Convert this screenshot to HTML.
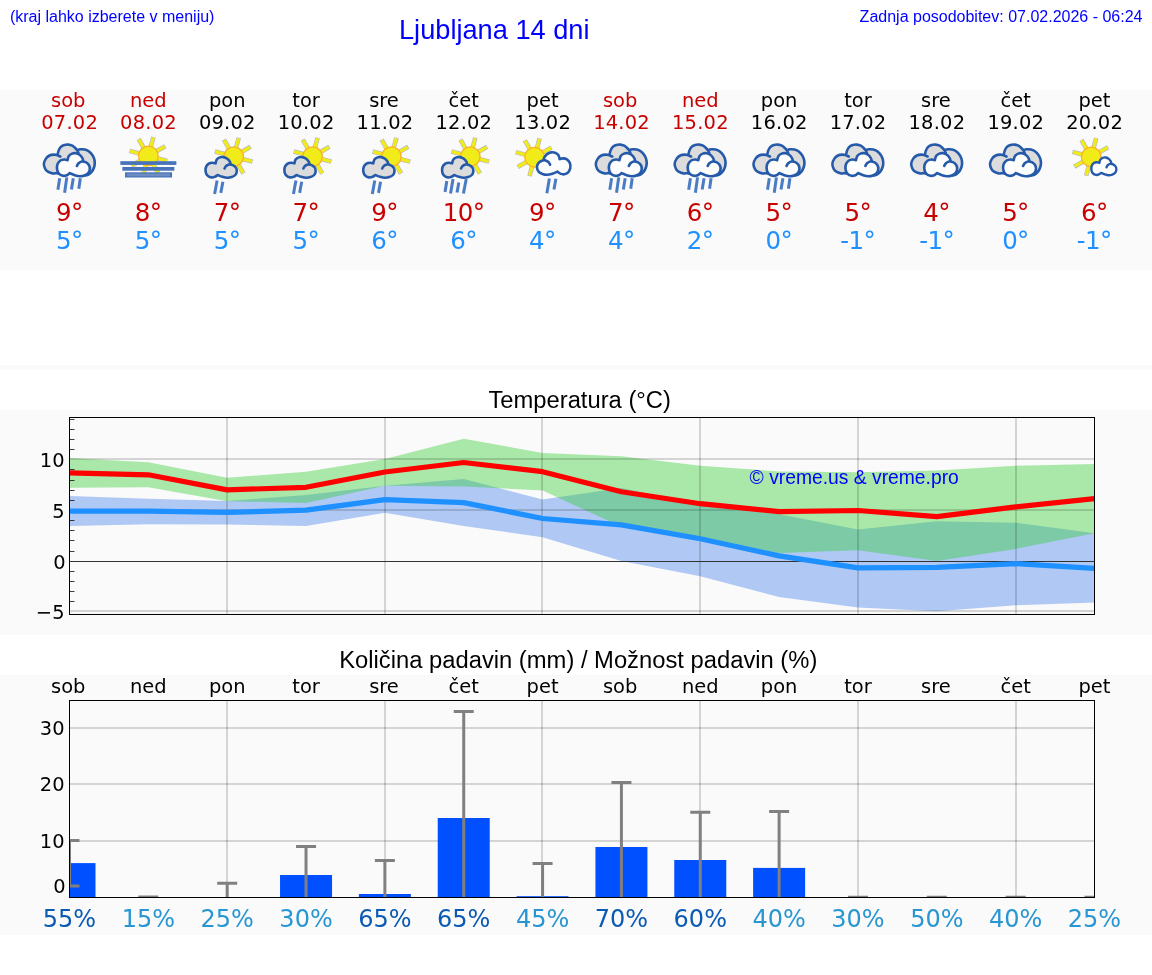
<!DOCTYPE html>
<html lang="sl"><head><meta charset="utf-8"><title>Ljubljana 14 dni</title>
<style>html,body{margin:0;padding:0;background:#fff;}svg{display:block;}.dj{font-family:"DejaVu Sans","Liberation Sans",sans-serif;}.ar{font-family:"Liberation Sans",Arial,sans-serif;}</style></head><body>
<svg width="1152" height="975" viewBox="0 0 1152 975">
<defs>
<filter id="blur" x="-30%" y="-30%" width="160%" height="160%"><feGaussianBlur stdDeviation="0.45"/></filter>
<g id="cloud"><path d="M11.1,7.1C11.3,6.48 11.58,4.38 12.3,3.4C13.02,2.42 14.27,1.62 15.4,1.2C16.53,0.78 17.87,0.68 19.1,0.9C20.33,1.12 21.78,1.78 22.8,2.5C23.82,3.22 24.63,4.28 25.2,5.2C25.77,6.12 26.03,7.53 26.2,8C26.55,8.15 27.43,8.33 28.3,8.9C29.17,9.47 30.73,10.37 31.4,11.4C32.07,12.43 32.4,13.87 32.3,15.1C32.2,16.33 31.67,17.83 30.8,18.8C29.93,19.77 28.43,20.43 27.1,20.9C25.77,21.37 24.33,21.65 22.8,21.6C21.27,21.55 19.5,21.07 17.9,20.6C16.3,20.13 13.98,19.1 13.2,18.8C12.75,19.1 11.57,20.2 10.5,20.6C9.43,21 8.03,21.4 6.8,21.2C5.57,21 4.03,20.32 3.1,19.4C2.17,18.48 1.47,17.13 1.2,15.7C0.93,14.27 0.98,12.18 1.5,10.8C2.02,9.42 3.22,8.12 4.3,7.4C5.38,6.68 6.87,6.55 8,6.5C9.13,6.45 10.58,7 11.1,7.1Z" stroke="none"/><path d="M20,12.3C20.27,11.9 20.83,10.57 21.6,9.9C22.37,9.23 23.48,8.47 24.6,8.3C25.72,8.13 27.17,8.38 28.3,8.9C29.43,9.42 30.73,10.37 31.4,11.4C32.07,12.43 32.4,13.87 32.3,15.1C32.2,16.33 31.67,17.83 30.8,18.8C29.93,19.77 28.43,20.43 27.1,20.9C25.77,21.37 24.33,21.65 22.8,21.6C21.27,21.55 19.5,21.07 17.9,20.6C16.3,20.13 13.98,19.1 13.2,18.8M13.2,18.8C12.75,19.1 11.57,20.2 10.5,20.6C9.43,21 8.03,21.4 6.8,21.2C5.57,21 4.03,20.32 3.1,19.4C2.17,18.48 1.47,17.13 1.2,15.7C0.93,14.27 0.98,12.18 1.5,10.8C2.02,9.42 3.22,8.12 4.3,7.4C5.38,6.68 6.87,6.55 8,6.5C9.13,6.45 10.58,7 11.1,7.1M11.1,7.1C11.3,6.48 11.58,4.38 12.3,3.4C13.02,2.42 14.27,1.62 15.4,1.2C16.53,0.78 17.87,0.68 19.1,0.9C20.33,1.12 21.78,1.78 22.8,2.5C23.82,3.22 24.63,4.28 25.2,5.2C25.77,6.12 26.03,7.53 26.2,8" fill="none" stroke="#2559a9" stroke-linecap="round" stroke-linejoin="round" vector-effect="non-scaling-stroke"/></g>
<g id="backcloud"><path d="M22.8,35.7C22.48,35.6 21.93,35.15 20.9,35.1C19.87,35.05 18.03,35.6 16.6,35.4C15.17,35.2 13.53,34.67 12.3,33.9C11.07,33.13 9.93,32.13 9.2,30.8C8.47,29.47 7.78,27.6 7.9,25.9C8.02,24.2 8.97,22 9.9,20.6C10.83,19.2 12.17,18.17 13.5,17.5C14.83,16.83 16.62,16.65 17.9,16.6C19.18,16.55 20.65,17.1 21.2,17.2C21.27,17.15 21.38,17.62 21.6,16.9C21.82,16.18 22,14.18 22.5,12.9C23,11.62 23.63,10.17 24.6,9.2C25.57,8.23 27.02,7.53 28.3,7.1C29.58,6.67 30.97,6.5 32.3,6.6C33.63,6.7 35.12,7.1 36.3,7.7C37.48,8.3 38.6,9.43 39.4,10.2C40.2,10.97 40.82,11.95 41.1,12.3C41.63,12.13 43.02,11.42 44.3,11.3C45.58,11.18 47.28,11.18 48.8,11.6C50.32,12.02 52.05,12.75 53.4,13.8C54.75,14.85 56.03,16.4 56.9,17.9C57.77,19.4 58.32,21.23 58.6,22.8C58.88,24.37 58.85,25.83 58.6,27.3C58.35,28.77 57.72,30.38 57.1,31.6C56.48,32.82 55.68,33.78 54.9,34.6C54.12,35.42 53.3,36.02 52.4,36.5C51.5,36.98 49.98,37.33 49.5,37.5L30,36Z" fill="#dcdcdc" stroke="none"/><path d="M24.3,18.5C23.78,18.28 22.27,17.52 21.2,17.2C20.13,16.88 19.18,16.55 17.9,16.6C16.62,16.65 14.83,16.83 13.5,17.5C12.17,18.17 10.83,19.2 9.9,20.6C8.97,22 8.02,24.2 7.9,25.9C7.78,27.6 8.47,29.47 9.2,30.8C9.93,32.13 11.07,33.13 12.3,33.9C13.53,34.67 15.17,35.2 16.6,35.4C18.03,35.6 19.87,35.05 20.9,35.1C21.93,35.15 22.48,35.6 22.8,35.7M21.6,16.9C21.75,16.23 22,14.18 22.5,12.9C23,11.62 23.63,10.17 24.6,9.2C25.57,8.23 27.02,7.53 28.3,7.1C29.58,6.67 30.97,6.5 32.3,6.6C33.63,6.7 35.12,7.1 36.3,7.7C37.48,8.3 38.6,9.43 39.4,10.2C40.2,10.97 40.58,11.48 41.1,12.3C41.62,13.12 42.27,14.63 42.5,15.1M41.1,12.3C41.63,12.13 43.02,11.42 44.3,11.3C45.58,11.18 47.28,11.18 48.8,11.6C50.32,12.02 52.05,12.75 53.4,13.8C54.75,14.85 56.03,16.4 56.9,17.9C57.77,19.4 58.32,21.23 58.6,22.8C58.88,24.37 58.85,25.83 58.6,27.3C58.35,28.77 57.72,30.38 57.1,31.6C56.48,32.82 55.68,33.78 54.9,34.6C54.12,35.42 53.3,36.02 52.4,36.5C51.5,36.98 49.98,37.33 49.5,37.5" fill="none" stroke="#2559a9" stroke-width="2.6" stroke-linecap="round" stroke-linejoin="round"/></g>
<g id="sun"><g stroke="#7d84a0" stroke-width="4.6" stroke-linecap="butt" opacity="0.55" filter="url(#blur)"><line x1="8.69" y1="2.33" x2="18.84" y2="5.05"/><line x1="4.5" y1="7.79" x2="9.75" y2="16.89"/><line x1="-2.33" y1="8.69" x2="-5.05" y2="18.84"/><line x1="-7.79" y1="4.5" x2="-16.89" y2="9.75"/><line x1="-8.69" y1="-2.33" x2="-18.84" y2="-5.05"/><line x1="-4.5" y1="-7.79" x2="-9.75" y2="-16.89"/><line x1="2.33" y1="-8.69" x2="5.05" y2="-18.84"/><line x1="7.79" y1="-4.5" x2="16.89" y2="-9.75"/></g><g stroke="#f0eb19" stroke-width="3.3" stroke-linecap="butt"><line x1="8.69" y1="2.33" x2="18.35" y2="4.92"/><line x1="4.5" y1="7.79" x2="9.5" y2="16.45"/><line x1="-2.33" y1="8.69" x2="-4.92" y2="18.35"/><line x1="-7.79" y1="4.5" x2="-16.45" y2="9.5"/><line x1="-8.69" y1="-2.33" x2="-18.35" y2="-4.92"/><line x1="-4.5" y1="-7.79" x2="-9.5" y2="-16.45"/><line x1="2.33" y1="-8.69" x2="4.92" y2="-18.35"/><line x1="7.79" y1="-4.5" x2="16.45" y2="-9.5"/></g><circle r="9.8" fill="#f0eb19" stroke="#fab228" stroke-width="1.3"/></g>
<clipPath id="clipT"><rect x="69.5" y="417.5" width="1025" height="197"/></clipPath>
<clipPath id="clipP"><rect x="69.5" y="700.5" width="1025" height="197"/></clipPath>
</defs>
<rect x="0" y="0" width="1152" height="975" fill="#fff"/>
<rect x="0" y="90" width="1152" height="180" fill="#fafafa"/>
<rect x="0" y="365" width="1152" height="5" fill="#fafafa"/>
<rect x="0" y="410" width="1152" height="225" fill="#fafafa"/>
<rect x="0" y="675" width="1152" height="260" fill="#fafafa"/>
<g class="ar" fill="#0000ff">
<text x="9.9" y="21.6" font-size="16">(kraj lahko izberete v meniju)</text>
<text x="399" y="39.3" font-size="27.2">Ljubljana 14 dni</text>
<text x="1142.5" y="21.5" font-size="16" text-anchor="end">Zadnja posodobitev: 07.02.2026 - 06:24</text>
</g>
<g class="dj" text-anchor="middle">
<text x="68.2" y="106.7" font-size="19.44" fill="#c80000">sob</text>
<text x="69.6" y="129" font-size="19.44" letter-spacing="0.22" fill="#c80000">07.02</text>
<text x="69.3" y="220.7" font-size="24.5" letter-spacing="-0.6" fill="#c80000">9°</text>
<text x="69.3" y="248.7" font-size="24.5" letter-spacing="-0.6" fill="#1e90ff">5°</text>
<text x="148.35" y="106.7" font-size="19.44" fill="#c80000">ned</text>
<text x="148.45" y="129" font-size="19.44" letter-spacing="0.22" fill="#c80000">08.02</text>
<text x="148.15" y="220.7" font-size="24.5" letter-spacing="-0.6" fill="#c80000">8°</text>
<text x="148.15" y="248.7" font-size="24.5" letter-spacing="-0.6" fill="#1e90ff">5°</text>
<text x="227.19" y="106.7" font-size="19.44" fill="#000">pon</text>
<text x="227.29" y="129" font-size="19.44" letter-spacing="0.22" fill="#000">09.02</text>
<text x="226.99" y="220.7" font-size="24.5" letter-spacing="-0.6" fill="#c80000">7°</text>
<text x="226.99" y="248.7" font-size="24.5" letter-spacing="-0.6" fill="#1e90ff">5°</text>
<text x="306.04" y="106.7" font-size="19.44" fill="#000">tor</text>
<text x="306.14" y="129" font-size="19.44" letter-spacing="0.22" fill="#000">10.02</text>
<text x="305.84" y="220.7" font-size="24.5" letter-spacing="-0.6" fill="#c80000">7°</text>
<text x="305.84" y="248.7" font-size="24.5" letter-spacing="-0.6" fill="#1e90ff">5°</text>
<text x="383.98" y="106.7" font-size="19.44" fill="#000">sre</text>
<text x="384.98" y="129" font-size="19.44" letter-spacing="0.22" fill="#000">11.02</text>
<text x="384.68" y="220.7" font-size="24.5" letter-spacing="-0.6" fill="#c80000">9°</text>
<text x="384.68" y="248.7" font-size="24.5" letter-spacing="-0.6" fill="#1e90ff">6°</text>
<text x="463.73" y="106.7" font-size="19.44" fill="#000">čet</text>
<text x="463.83" y="129" font-size="19.44" letter-spacing="0.22" fill="#000">12.02</text>
<text x="463.53" y="220.7" font-size="24.5" letter-spacing="-0.6" fill="#c80000">10°</text>
<text x="463.53" y="248.7" font-size="24.5" letter-spacing="-0.6" fill="#1e90ff">6°</text>
<text x="542.58" y="106.7" font-size="19.44" fill="#000">pet</text>
<text x="542.68" y="129" font-size="19.44" letter-spacing="0.22" fill="#000">13.02</text>
<text x="542.38" y="220.7" font-size="24.5" letter-spacing="-0.6" fill="#c80000">9°</text>
<text x="542.38" y="248.7" font-size="24.5" letter-spacing="-0.6" fill="#1e90ff">4°</text>
<text x="620.12" y="106.7" font-size="19.44" fill="#c80000">sob</text>
<text x="621.52" y="129" font-size="19.44" letter-spacing="0.22" fill="#c80000">14.02</text>
<text x="621.22" y="220.7" font-size="24.5" letter-spacing="-0.6" fill="#c80000">7°</text>
<text x="621.22" y="248.7" font-size="24.5" letter-spacing="-0.6" fill="#1e90ff">4°</text>
<text x="700.27" y="106.7" font-size="19.44" fill="#c80000">ned</text>
<text x="700.37" y="129" font-size="19.44" letter-spacing="0.22" fill="#c80000">15.02</text>
<text x="700.07" y="220.7" font-size="24.5" letter-spacing="-0.6" fill="#c80000">6°</text>
<text x="700.07" y="248.7" font-size="24.5" letter-spacing="-0.6" fill="#1e90ff">2°</text>
<text x="779.12" y="106.7" font-size="19.44" fill="#000">pon</text>
<text x="779.22" y="129" font-size="19.44" letter-spacing="0.22" fill="#000">16.02</text>
<text x="778.92" y="220.7" font-size="24.5" letter-spacing="-0.6" fill="#c80000">5°</text>
<text x="778.92" y="248.7" font-size="24.5" letter-spacing="-0.6" fill="#1e90ff">0°</text>
<text x="857.96" y="106.7" font-size="19.44" fill="#000">tor</text>
<text x="858.06" y="129" font-size="19.44" letter-spacing="0.22" fill="#000">17.02</text>
<text x="857.76" y="220.7" font-size="24.5" letter-spacing="-0.6" fill="#c80000">5°</text>
<text x="857.76" y="248.7" font-size="24.5" letter-spacing="-0.6" fill="#1e90ff">-1°</text>
<text x="935.91" y="106.7" font-size="19.44" fill="#000">sre</text>
<text x="936.91" y="129" font-size="19.44" letter-spacing="0.22" fill="#000">18.02</text>
<text x="936.61" y="220.7" font-size="24.5" letter-spacing="-0.6" fill="#c80000">4°</text>
<text x="936.61" y="248.7" font-size="24.5" letter-spacing="-0.6" fill="#1e90ff">-1°</text>
<text x="1015.65" y="106.7" font-size="19.44" fill="#000">čet</text>
<text x="1015.75" y="129" font-size="19.44" letter-spacing="0.22" fill="#000">19.02</text>
<text x="1015.45" y="220.7" font-size="24.5" letter-spacing="-0.6" fill="#c80000">5°</text>
<text x="1015.45" y="248.7" font-size="24.5" letter-spacing="-0.6" fill="#1e90ff">0°</text>
<text x="1094.5" y="106.7" font-size="19.44" fill="#000">pet</text>
<text x="1094.6" y="129" font-size="19.44" letter-spacing="0.22" fill="#000">20.02</text>
<text x="1094.3" y="220.7" font-size="24.5" letter-spacing="-0.6" fill="#c80000">6°</text>
<text x="1094.3" y="248.7" font-size="24.5" letter-spacing="-0.6" fill="#1e90ff">-1°</text>
</g>
<g id="icons">
<use href="#backcloud" x="36" y="138"/><g transform="translate(55.9,152.3) scale(1.05,1.11)" fill="#fdfdfd" stroke-width="2.6"><use href="#cloud"/></g><g stroke="#4a7cc4" stroke-width="3" stroke-linecap="butt"><line x1="59.7" y1="178.3" x2="57.9" y2="189.7"/><line x1="66.8" y1="177.4" x2="64.6" y2="192.8"/><line x1="73.3" y1="178.3" x2="71.4" y2="189.4"/><line x1="80.3" y1="178.3" x2="78.8" y2="188.8"/></g>
<use href="#sun" x="148.35" y="155.9"/><g fill="#4673b9"><rect x="120.35" y="161.2" width="56" height="3.7"/><rect x="122.35" y="167" width="52" height="3.7"/><rect x="125.05" y="172.3" width="47" height="5.2"/></g><rect x="127.05" y="173.5" width="43" height="2.8" fill="#6b8dc2"/>
<use href="#sun" x="233.69" y="156.6"/><g transform="translate(204.49,156.2)" fill="#dcdcdc" stroke-width="2.6"><use href="#cloud"/></g><g stroke="#4a7cc4" stroke-width="3" stroke-linecap="butt"><line x1="217.09" y1="180.6" x2="214.59" y2="194.1"/><line x1="222.89" y1="181.8" x2="220.79" y2="192.9"/></g>
<use href="#sun" x="312.54" y="156.6"/><g transform="translate(283.34,156.2)" fill="#dcdcdc" stroke-width="2.6"><use href="#cloud"/></g><g stroke="#4a7cc4" stroke-width="3" stroke-linecap="butt"><line x1="295.94" y1="180.6" x2="293.44" y2="194.1"/><line x1="301.74" y1="181.8" x2="299.64" y2="192.9"/></g>
<use href="#sun" x="391.38" y="156.6"/><g transform="translate(362.18,156.2)" fill="#dcdcdc" stroke-width="2.6"><use href="#cloud"/></g><g stroke="#4a7cc4" stroke-width="3" stroke-linecap="butt"><line x1="374.78" y1="180.6" x2="372.28" y2="194.1"/><line x1="380.58" y1="181.8" x2="378.48" y2="192.9"/></g>
<use href="#sun" x="470.23" y="156.6"/><g transform="translate(441.03,156.2)" fill="#dcdcdc" stroke-width="2.6"><use href="#cloud"/></g><g stroke="#4a7cc4" stroke-width="3" stroke-linecap="butt"><line x1="446.83" y1="180.9" x2="445.03" y2="192"/><line x1="453.03" y1="179" x2="450.53" y2="193.5"/><line x1="458.83" y1="182.4" x2="457.03" y2="192.6"/><line x1="466.23" y1="179" x2="463.43" y2="193.5"/></g>
<use href="#sun" x="534.58" y="157.2"/><g transform="translate(571.48,151.4) scale(-1.068,1.08)" fill="#fdfdfd" stroke-width="2.6"><use href="#cloud"/></g><g stroke="#4a7cc4" stroke-width="3" stroke-linecap="butt"><line x1="549.38" y1="178.4" x2="546.88" y2="193.2"/><line x1="555.88" y1="178.7" x2="553.98" y2="189.5"/></g>
<use href="#backcloud" x="587.92" y="138"/><g transform="translate(607.82,152.3) scale(1.05,1.11)" fill="#fdfdfd" stroke-width="2.6"><use href="#cloud"/></g><g stroke="#4a7cc4" stroke-width="3" stroke-linecap="butt"><line x1="611.62" y1="178.3" x2="609.82" y2="189.7"/><line x1="618.72" y1="177.4" x2="616.52" y2="192.8"/><line x1="625.22" y1="178.3" x2="623.32" y2="189.4"/><line x1="632.22" y1="178.3" x2="630.72" y2="188.8"/></g>
<use href="#backcloud" x="666.77" y="138"/><g transform="translate(686.67,152.3) scale(1.05,1.11)" fill="#fdfdfd" stroke-width="2.6"><use href="#cloud"/></g><g stroke="#4a7cc4" stroke-width="3" stroke-linecap="butt"><line x1="690.47" y1="178.3" x2="688.67" y2="189.7"/><line x1="697.57" y1="177.4" x2="695.37" y2="192.8"/><line x1="704.07" y1="178.3" x2="702.17" y2="189.4"/><line x1="711.07" y1="178.3" x2="709.57" y2="188.8"/></g>
<use href="#backcloud" x="745.62" y="138"/><g transform="translate(765.52,152.3) scale(1.05,1.11)" fill="#fdfdfd" stroke-width="2.6"><use href="#cloud"/></g><g stroke="#4a7cc4" stroke-width="3" stroke-linecap="butt"><line x1="769.32" y1="178.3" x2="767.52" y2="189.7"/><line x1="776.42" y1="177.4" x2="774.22" y2="192.8"/><line x1="782.92" y1="178.3" x2="781.02" y2="189.4"/><line x1="789.92" y1="178.3" x2="788.42" y2="188.8"/></g>
<use href="#backcloud" x="824.46" y="138"/><g transform="translate(844.36,152.3) scale(1.05,1.11)" fill="#fdfdfd" stroke-width="2.6"><use href="#cloud"/></g>
<use href="#backcloud" x="903.31" y="138"/><g transform="translate(923.21,152.3) scale(1.05,1.11)" fill="#fdfdfd" stroke-width="2.6"><use href="#cloud"/></g>
<use href="#backcloud" x="982.15" y="138"/><g transform="translate(1002.05,152.3) scale(1.05,1.11)" fill="#fdfdfd" stroke-width="2.6"><use href="#cloud"/></g>
<use href="#sun" x="1091.2" y="156.9"/><g transform="translate(1090.5,156.7) scale(0.8,0.86)" fill="#fdfdfd" stroke-width="2.35"><use href="#cloud"/></g>
</g>
<text class="ar" x="488.4" y="408" font-size="23.78" fill="#000">Temperatura (°C)</text>
<g clip-path="url(#clipT)">
<polygon points="69.5,496.1 148.35,498.7 227.19,501 306.04,495.1 384.88,485.7 463.73,479.1 542.58,499.4 621.42,488 700.27,504.8 779.12,514.2 857.96,529.5 936.81,521.2 1015.65,522.7 1094.5,533.2 1094.5,602.5 1015.65,605.2 936.81,611.3 857.96,607.6 779.12,596.9 700.27,576.2 621.42,560.9 542.58,537.2 463.73,526 384.88,512.8 306.04,526 227.19,524.6 148.35,524.3 69.5,526" fill="#6495ed" fill-opacity="0.5"/>
<polygon points="69.5,458.1 148.35,462.3 227.19,477.7 306.04,471.7 384.88,458.9 463.73,438.7 542.58,452.9 621.42,456.2 700.27,465.8 779.12,471.4 857.96,472.3 936.81,470.5 1015.65,465.8 1094.5,464 1094.5,533.2 1015.65,548.9 936.81,560.9 857.96,550.2 779.12,553 700.27,540 621.42,526.8 542.58,490.5 463.73,486.4 384.88,485.7 306.04,502.9 227.19,501.3 148.35,487.3 69.5,487.8" fill="#32cd32" fill-opacity="0.4"/>
<g stroke="#000" stroke-opacity="0.15" stroke-width="2">
<line x1="227" y1="417" x2="227" y2="615"/>
<line x1="385" y1="417" x2="385" y2="615"/>
<line x1="542" y1="417" x2="542" y2="615"/>
<line x1="700" y1="417" x2="700" y2="615"/>
<line x1="858" y1="417" x2="858" y2="615"/>
<line x1="1016" y1="417" x2="1016" y2="615"/>
<line x1="69" y1="459" x2="1095" y2="459"/>
<line x1="69" y1="510" x2="1095" y2="510"/>
<line x1="69" y1="611" x2="1095" y2="611"/>
</g>
<line x1="69" y1="561.5" x2="1095" y2="561.5" stroke="#333" stroke-width="1"/>
<polyline points="69.5,472.9 148.35,474.8 227.19,489.9 306.04,487.3 384.88,472 463.73,462.5 542.58,471.7 621.42,491.7 700.27,503.7 779.12,511.6 857.96,510.5 936.81,516.6 1015.65,506.8 1094.5,498.7" fill="none" stroke="#ff0000" stroke-width="5.2" stroke-linejoin="round" stroke-linecap="butt"/>
<polyline points="69.5,511.2 148.35,511.2 227.19,512.3 306.04,510.2 384.88,499.6 463.73,502.6 542.58,518.5 621.42,524.9 700.27,538.8 779.12,555.9 857.96,567.9 936.81,567.4 1015.65,563.7 1094.5,568.3" fill="none" stroke="#1e90ff" stroke-width="5.2" stroke-linejoin="round" stroke-linecap="butt"/>
</g>
<g stroke="#1a1a1a" stroke-width="0.85">
<line x1="70" y1="601.5" x2="74.5" y2="601.5"/>
<line x1="70" y1="591.5" x2="74.5" y2="591.5"/>
<line x1="70" y1="581.5" x2="74.5" y2="581.5"/>
<line x1="70" y1="571.5" x2="74.5" y2="571.5"/>
<line x1="70" y1="551.5" x2="74.5" y2="551.5"/>
<line x1="70" y1="540.5" x2="74.5" y2="540.5"/>
<line x1="70" y1="530.5" x2="74.5" y2="530.5"/>
<line x1="70" y1="520.5" x2="74.5" y2="520.5"/>
<line x1="70" y1="500.5" x2="74.5" y2="500.5"/>
<line x1="70" y1="490.5" x2="74.5" y2="490.5"/>
<line x1="70" y1="480.5" x2="74.5" y2="480.5"/>
<line x1="70" y1="469.5" x2="74.5" y2="469.5"/>
<line x1="70" y1="449.5" x2="74.5" y2="449.5"/>
<line x1="70" y1="439.5" x2="74.5" y2="439.5"/>
<line x1="70" y1="429.5" x2="74.5" y2="429.5"/>
<line x1="70" y1="419.5" x2="74.5" y2="419.5"/>
</g>
<rect x="69.5" y="417.5" width="1025" height="197" fill="none" stroke="#000" stroke-width="1"/>
<g class="dj" font-size="19.44" text-anchor="end" fill="#000">
<text x="64.5" y="466.7">10</text>
<text x="64.5" y="517.7">5</text>
<text x="65.7" y="568.7">0</text>
<text x="64.5" y="618.7">−5</text>
</g>
<text class="ar" x="749.6" y="484.2" font-size="19.3" fill="#0000ff">© vreme.us &amp; vreme.pro</text>
<text class="ar" x="339.2" y="667.5" font-size="23.78" fill="#000">Količina padavin (mm) / Možnost padavin (%)</text>
<g class="dj" font-size="19.44" text-anchor="middle" fill="#000">
<text x="68.2" y="692.8">sob</text>
<text x="148.35" y="692.8">ned</text>
<text x="227.19" y="692.8">pon</text>
<text x="306.04" y="692.8">tor</text>
<text x="383.98" y="692.8">sre</text>
<text x="463.73" y="692.8">čet</text>
<text x="542.58" y="692.8">pet</text>
<text x="620.12" y="692.8">sob</text>
<text x="700.27" y="692.8">ned</text>
<text x="779.12" y="692.8">pon</text>
<text x="857.96" y="692.8">tor</text>
<text x="935.91" y="692.8">sre</text>
<text x="1015.65" y="692.8">čet</text>
<text x="1094.5" y="692.8">pet</text>
</g>
<g clip-path="url(#clipP)">
<g stroke="#000" stroke-opacity="0.15" stroke-width="2">
<line x1="227" y1="700" x2="227" y2="898"/>
<line x1="385" y1="700" x2="385" y2="898"/>
<line x1="542" y1="700" x2="542" y2="898"/>
<line x1="700" y1="700" x2="700" y2="898"/>
<line x1="858" y1="700" x2="858" y2="898"/>
<line x1="1016" y1="700" x2="1016" y2="898"/>
<line x1="69" y1="728" x2="1095" y2="728"/>
<line x1="69" y1="784" x2="1095" y2="784"/>
<line x1="69" y1="841" x2="1095" y2="841"/>
</g>
<g fill="#0050ff">
<rect x="43.5" y="863.1" width="52" height="34.9"/>
<rect x="280.04" y="875" width="52" height="23"/>
<rect x="358.88" y="894" width="52" height="4"/>
<rect x="437.73" y="818" width="52" height="80"/>
<rect x="516.58" y="896.2" width="52" height="1.8"/>
<rect x="595.42" y="847" width="52" height="51"/>
<rect x="674.27" y="860" width="52" height="38"/>
<rect x="753.12" y="867.9" width="52" height="30.1"/>
</g>
<g stroke="#808080" stroke-width="3">
<line x1="69.5" y1="840.6" x2="69.5" y2="886"/>
<line x1="59.5" y1="840.6" x2="79.5" y2="840.6"/>
<line x1="59.5" y1="886" x2="79.5" y2="886"/>
<line x1="148.35" y1="897" x2="148.35" y2="898"/>
<line x1="138.35" y1="897" x2="158.35" y2="897"/>
<line x1="227.19" y1="883.3" x2="227.19" y2="898"/>
<line x1="217.19" y1="883.3" x2="237.19" y2="883.3"/>
<line x1="306.04" y1="846.5" x2="306.04" y2="898"/>
<line x1="296.04" y1="846.5" x2="316.04" y2="846.5"/>
<line x1="384.88" y1="860.4" x2="384.88" y2="898"/>
<line x1="374.88" y1="860.4" x2="394.88" y2="860.4"/>
<line x1="463.73" y1="711.6" x2="463.73" y2="898"/>
<line x1="453.73" y1="711.6" x2="473.73" y2="711.6"/>
<line x1="542.58" y1="863.4" x2="542.58" y2="898"/>
<line x1="532.58" y1="863.4" x2="552.58" y2="863.4"/>
<line x1="621.42" y1="782.4" x2="621.42" y2="898"/>
<line x1="611.42" y1="782.4" x2="631.42" y2="782.4"/>
<line x1="700.27" y1="812.3" x2="700.27" y2="898"/>
<line x1="690.27" y1="812.3" x2="710.27" y2="812.3"/>
<line x1="779.12" y1="811.4" x2="779.12" y2="898"/>
<line x1="769.12" y1="811.4" x2="789.12" y2="811.4"/>
<line x1="857.96" y1="897.2" x2="857.96" y2="898"/>
<line x1="847.96" y1="897.2" x2="867.96" y2="897.2"/>
<line x1="936.81" y1="897.2" x2="936.81" y2="898"/>
<line x1="926.81" y1="897.2" x2="946.81" y2="897.2"/>
<line x1="1015.65" y1="897.2" x2="1015.65" y2="898"/>
<line x1="1005.65" y1="897.2" x2="1025.65" y2="897.2"/>
<line x1="1094.5" y1="897.2" x2="1094.5" y2="898"/>
<line x1="1084.5" y1="897.2" x2="1104.5" y2="897.2"/>
</g>
</g>
<rect x="69.5" y="700.5" width="1025" height="197" fill="none" stroke="#000" stroke-width="1"/>
<g class="dj" font-size="19.44" text-anchor="end" fill="#000">
<text x="64.5" y="734.7">30</text>
<text x="64.5" y="791.2">20</text>
<text x="64.5" y="847.7">10</text>
<text x="65.7" y="893.2">0</text>
</g>
<g class="dj" font-size="24" text-anchor="middle">
<text x="69.5" y="926.7" fill="#0a5ab4">55%</text>
<text x="148.35" y="926.7" fill="#2896d2">15%</text>
<text x="227.19" y="926.7" fill="#2896d2">25%</text>
<text x="306.04" y="926.7" fill="#2896d2">30%</text>
<text x="384.88" y="926.7" fill="#0a5ab4">65%</text>
<text x="463.73" y="926.7" fill="#0a5ab4">65%</text>
<text x="542.58" y="926.7" fill="#2896d2">45%</text>
<text x="621.42" y="926.7" fill="#0a5ab4">70%</text>
<text x="700.27" y="926.7" fill="#0a5ab4">60%</text>
<text x="779.12" y="926.7" fill="#2896d2">40%</text>
<text x="857.96" y="926.7" fill="#2896d2">30%</text>
<text x="936.81" y="926.7" fill="#2896d2">50%</text>
<text x="1015.65" y="926.7" fill="#2896d2">40%</text>
<text x="1094.5" y="926.7" fill="#2896d2">25%</text>
</g>
</svg></body></html>
